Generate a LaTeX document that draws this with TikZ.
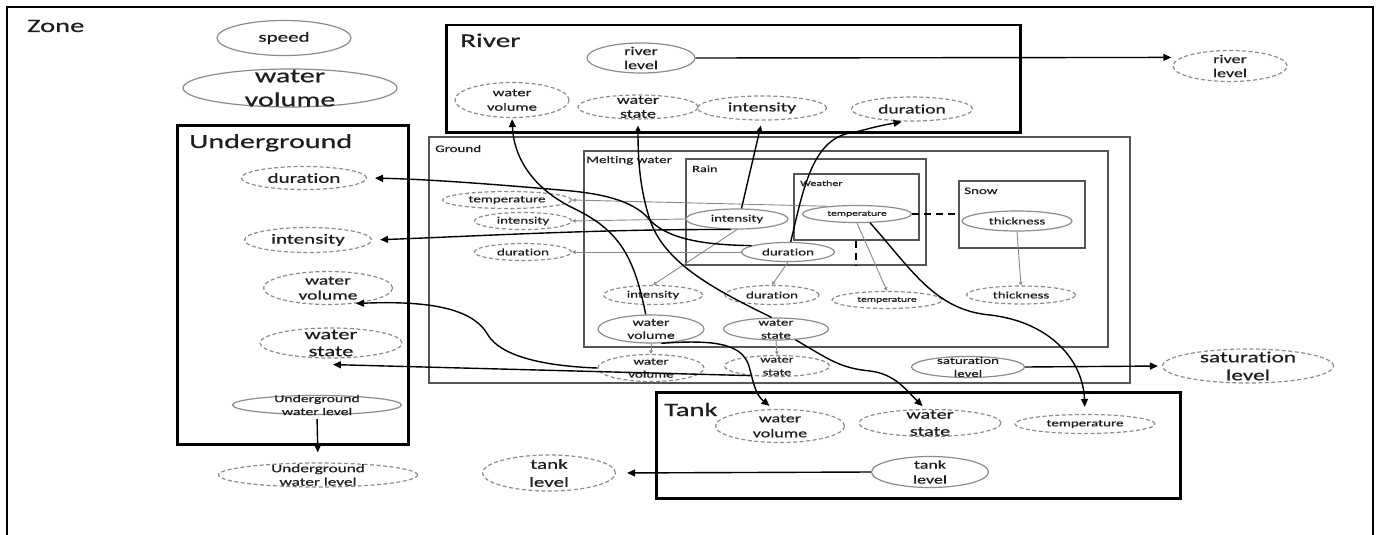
\documentclass[tikz,border=0pt]{standalone}
\usepackage{fontspec}
\setmainfont{Carlito}[FakeStretch=1.5,FakeBold=0.6,Ligatures=NoCommon]
\usetikzlibrary{shapes.geometric,arrows.meta,calc}
\definecolor{elc}{HTML}{8C8C8C}
\definecolor{boxc}{HTML}{555555}
\definecolor{txc}{HTML}{1E1E1E}
\definecolor{gln}{HTML}{8A8A8A}
\tikzset{
 solidE/.style={ellipse, draw=elc, line width=1.2pt, inner sep=0pt},
 dashE/.style={ellipse, draw=elc, line width=1.2pt, dash pattern=on 4pt off 2.5pt, inner sep=0pt},
 txt/.style={align=center, inner sep=0pt, text=txc},
 bigbox/.style={rectangle, draw=black, line width=2.5pt, anchor=north west, inner sep=0pt},
 subbox/.style={rectangle, draw=boxc, line width=1.5pt, anchor=north west, inner sep=0pt},
 title/.style={anchor=base west, inner sep=0pt, text=txc},
 garr/.style={draw=gln, line width=0.9pt, -{Triangle[length=3.5pt,width=3.5pt]}},
 barr/.style={draw=black, line width=1.4pt, -{Triangle[length=8pt,width=7pt]}},
 link/.style={draw=black, line width=2pt, dash pattern=on 7pt off 5pt},
}
\newcommand\Ell[9]{%
 \node[#6, minimum width=#4pt, minimum height=#5pt] (#1) at (#2,#3) {};
 \node[txt, font=\fontsize{#7}{#8}\selectfont] (#1-t) at (#1.center) {#9};
}
\begin{document}
\begin{tikzpicture}[x=1pt,y=-1pt]
\useasboundingbox (0,0) rectangle (1378,535);
\clip (0,0) rectangle (1378,535);
\fill[white] (0,0) rectangle (1378,535);
\draw[line width=2pt] (7,545) -- (7,7) -- (1373,7) -- (1373,545);

% boxes
\node[bigbox, minimum width=574pt, minimum height=107pt] (river) at (445,24) {};
\node[bigbox, minimum width=231pt, minimum height=319pt] (under) at (176,124) {};
\node[bigbox, minimum width=524pt, minimum height=106pt] (tank) at (655,391) {};
\node[subbox, minimum width=701pt, minimum height=246pt] (ground) at (428,136) {};
\node[subbox, minimum width=524pt, minimum height=196pt] (melt) at (583,150) {};
\node[subbox, minimum width=240pt, minimum height=106pt] (rain) at (685,158) {};
\node[subbox, minimum width=125pt, minimum height=66pt] (weather) at (793,173) {};
\node[subbox, minimum width=126pt, minimum height=67pt] (snow) at (958,180) {};

% titles
\node[title, font=\fontsize{19}{21}\selectfont] (zoneT) at (27,32) {Zone};
\node[title, font=\fontsize{20}{22}\selectfont] (underT) at (189,148) {Underground};
\node[title, font=\fontsize{19.5}{22}\selectfont] (riverT) at (460,47) {River};
\node[title, font=\fontsize{19}{22}\selectfont] (tankT) at (664,416) {Tank};
\node[title, font=\fontsize{10}{12}\selectfont] (groundT) at (435,152) {Ground};
\node[title, font=\fontsize{10}{12}\selectfont] (meltT) at (586,163) {Melting water};
\node[title, font=\fontsize{9.5}{11}\selectfont] (rainT) at (692,172) {Rain};
\node[title, font=\fontsize{8}{10}\selectfont] (weatherT) at (800,186) {Weather};
\node[title, font=\fontsize{10}{12}\selectfont] (snowT) at (964,194) {Snow};

% ellipses
\Ell{speed}{284}{38}{134}{35}{solidE}{14}{16}{speed}
\Ell{zvol}{290}{88}{214}{38}{solidE}{20}{24}{water\\volume}
\Ell{udur}{304}{178}{125}{23}{dashE}{14}{16}{duration}
\Ell{uint}{308}{240}{127}{25}{dashE}{14}{16}{intensity}
\Ell{uvol}{328}{288}{129}{33}{dashE}{13}{15}{water\\volume}
\Ell{ustate}{331}{343}{142}{30}{dashE}{15}{17}{water\\state}
\Ell{ulev}{317}{405}{169}{19}{solidE}{10.5}{13}{Underground\\water level}
\Ell{ulevout}{318}{475}{199}{24}{dashE}{11.5}{13.5}{Underground\\water level}
\Ell{rlev}{641}{58}{108}{30}{solidE}{12}{14}{river\\level}
\Ell{rvol}{512}{100}{114}{35}{dashE}{11}{14.5}{water\\volume}
\Ell{rstate}{638}{107}{120}{24}{dashE}{12}{14}{water\\state}
\Ell{rint}{762}{108}{129}{24}{dashE}{13}{15}{intensity}
\Ell{rdur}{912}{109}{121}{24}{dashE}{13}{15}{duration}
\Ell{rlevout}{1230}{66}{114}{31}{dashE}{12}{14}{river\\level}
\Ell{gtemp}{507}{200}{129}{17}{dashE}{10}{12}{temperature}
\Ell{gint}{523}{221}{97}{17}{dashE}{10}{12}{intensity}
\Ell{gdur}{523}{252}{97}{17}{dashE}{10}{12}{duration}
\Ell{gvol}{651}{368}{106}{27}{dashE}{10}{13}{water\\volume}
\Ell{gstate}{777}{366}{105}{21}{dashE}{9.5}{13}{water\\state}
\Ell{gsat}{968}{367}{113}{21}{solidE}{10}{13}{saturation\\level}
\Ell{satout}{1248}{366}{171}{34}{dashE}{15.5}{18}{saturation\\level}
\Ell{mint}{653}{295}{99}{19}{dashE}{10}{12}{intensity}
\Ell{mdur}{772}{295}{94}{19}{dashE}{10}{12}{duration}
\Ell{mtemp}{887}{300}{110}{17}{dashE}{7.7}{9}{temperature}
\Ell{mvol}{651}{329}{106}{28}{solidE}{10.5}{13}{water\\volume}
\Ell{mstate}{776}{329}{105}{22}{solidE}{10}{13}{water\\state}
\Ell{mthick}{1021}{295}{109}{18}{dashE}{10}{12}{thickness}
\Ell{rainint}{737}{219}{102}{20}{solidE}{10}{12}{intensity}
\Ell{raindur}{788}{252}{93}{19}{solidE}{10}{12}{duration}
\Ell{wtemp}{857}{214}{109}{17}{solidE}{7.7}{9}{temperature}
\Ell{sthick}{1017}{221}{110}{20}{solidE}{10}{12}{thickness}
\Ell{tvol}{780}{426}{129}{33}{dashE}{12}{15}{water\\volume}
\Ell{tstate}{930}{423}{142}{27}{dashE}{13.5}{17}{water\\state}
\Ell{ttemp}{1085}{424}{140}{19}{dashE}{10}{12}{temperature}
\Ell{tlev}{930}{472}{117}{31}{solidE}{12}{15}{tank\\level}
\Ell{tlevout}{549}{473}{133}{36}{dashE}{14}{18}{tank\\level}

% gray connectors
\draw[garr] (rainint.west) -- (gint.east);
\draw[garr] (wtemp.165) -- (gtemp.east);
\draw[garr] (raindur.west) -- (gdur.east);
\draw[garr] (rainint.south) -- (mint.north);
\draw[garr] (raindur.south) -- (mdur.north);
\draw[garr] (wtemp.south) -- (mtemp.north);
\draw[garr] (sthick.south) -- (mthick.north);
\draw[garr] (mvol.south) -- (gvol.north);
\draw[garr] (mstate.south) -- (gstate.north);

% black connectors
\draw[barr, shorten >=10pt] (rlev.east) -- (rlevout.170);
\draw[barr, shorten >=4pt] (gsat.east) -- (satout.west);
\draw[barr, shorten >=11pt] (tlev.west) -- (tlevout.east);
\draw[barr, shorten <=4pt, shorten >=10pt] (ulev.south) -- (ulevout.north);
\draw[barr, shorten >=5pt] (rainint.67) -- (rint.south);
\draw[barr, shorten >=1pt] (mvol.110) .. controls (634,255) and (618,230) .. (575,209) .. controls (535,190) and (514,160) .. (rvol.south);
\draw[barr, shorten >=6pt] (mstate.111) .. controls (720,292) and (665,265) .. (650,220) .. controls (640,190) and (638,160) .. (rstate.south);
\draw[barr, shorten >=2pt] (raindur.75) .. controls (803,190) and (812,140) .. (850,133) .. controls (862,131) and (872,127) .. (rdur.236);
\draw[barr, shorten >=8pt] (raindur.170) .. controls (700,245) and (665,238) .. (648,218) .. controls (632,200) and (600,193) .. (560,190) .. controls (480,183) and (420,179) .. (udur.east);
\draw[barr, shorten >=8pt] (rainint.240) .. controls (600,229) and (480,236) .. (uint.east);
\draw[barr, shorten >=1pt] (gvol.west) .. controls (540,366) and (500,355) .. (488,335) .. controls (475,312) and (440,300) .. (uvol.-30);
\draw[barr] (gstate.200) -- ($(ustate.south)+(2,6)$);
\draw[barr, shorten >=5pt] (mvol.-54) .. controls (720,339) and (745,345) .. (750,370) .. controls (754,385) and (756,395) .. (tvol.111);
\draw[barr, shorten >=4pt] (mstate.-29) .. controls (830,360) and (840,368) .. (870,371) .. controls (895,374) and (906,390) .. (tstate.108);
\draw[barr, shorten >=7pt] (wtemp.-34) .. controls (912,270) and (935,310) .. (990,315) .. controls (1050,322) and (1083,360) .. (ttemp.north);

% dashed links
\draw[link] (wtemp.east) -- (wtemp.east -| snow.west);
\draw[link] (weather.south) -- (weather.south |- rain.south);
\end{tikzpicture}
\end{document}
